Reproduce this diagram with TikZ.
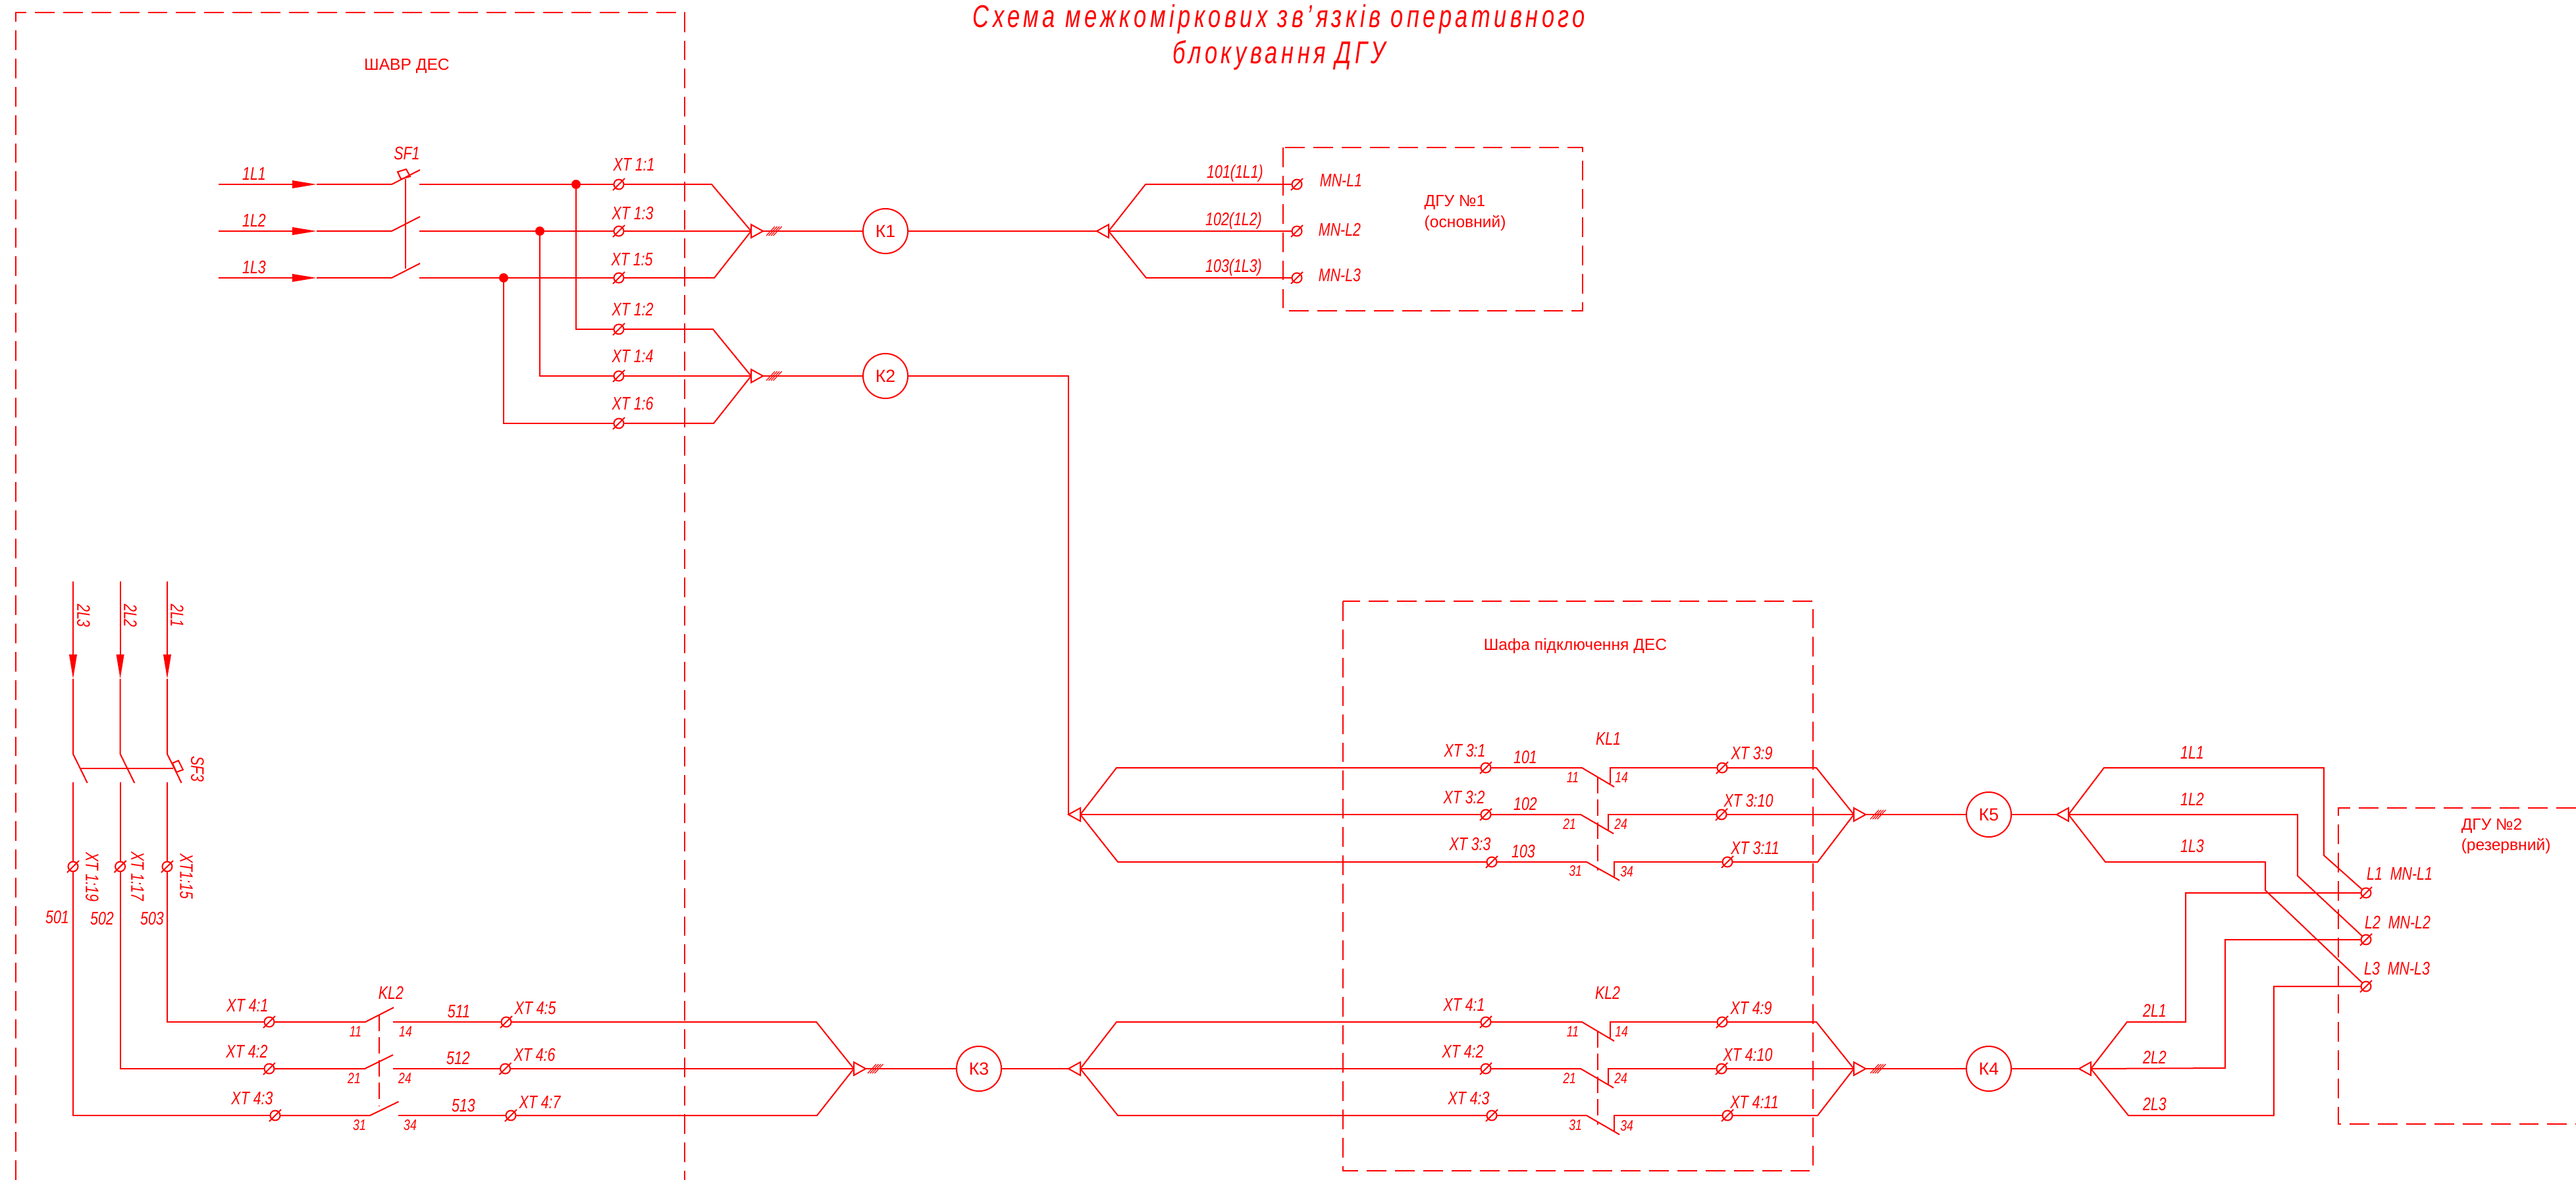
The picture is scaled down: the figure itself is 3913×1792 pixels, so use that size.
\documentclass[tikz,border=0pt]{standalone}
\usepackage{fontspec}
\usepackage{tikz}
\setmainfont{Liberation Sans}
\newfontfamily\cadfont[FakeStretch=0.77]{Liberation Sans Italic}
\newfontfamily\titlefont[FakeStretch=0.72,LetterSpace=11.5]{Liberation Sans Italic}
\usetikzlibrary{shapes.geometric, arrows.meta}
\newcommand{\XTterm}[2]{\node[term] (#1) at (#2) {};
    \draw[wire] ([shift={(-9,9)}]#1.center) -- ([shift={(9,-9)}]#1.center);}
\newcommand{\CableTick}[1]{\draw[thinwire] ([shift={(-11,7)}]#1) -- ([shift={(2,-7)}]#1);
    \draw[thinwire] ([shift={(-7.5,7)}]#1) -- ([shift={(5.5,-7)}]#1);
    \draw[thinwire] ([shift={(-4,7)}]#1) -- ([shift={(9,-7)}]#1);
    \draw[thinwire] ([shift={(-0.5,7)}]#1) -- ([shift={(12.5,-7)}]#1);}

\begin{document}
\begin{tikzpicture}
    [
        x=0.01cm, y=-0.01cm, color=red,
        wire/.style = {draw=red, line width=0.02cm},
        thinwire/.style = {draw=red, line width=0.012cm},
        feed/.style = {wire, -{Triangle[length=0.37cm, width=0.115cm]}},
        frame/.style = {draw=red, line width=0.022cm, dash pattern=on 8.5pt off 3.7pt},
        linkbar/.style = {draw=red, line width=0.016cm, dash pattern=on 7pt off 2.8pt},
        term/.style = {draw=red, shape=circle, minimum size=0.15cm, inner sep=0, outer sep=0, line width=0.02cm},
        dot/.style = {fill=red, shape=circle, minimum size=0.14cm, inner sep=0, outer sep=0},
        coil/.style = {draw=red, shape=circle, minimum size=0.68cm, inner sep=0, outer sep=0, line width=0.02cm, font=\fontsize{7.6}{8}\selectfont},
        hubr/.style = {draw=red, shape=isosceles triangle, isosceles triangle apex angle=58, minimum height=0.18cm, inner sep=0, outer sep=0, line width=0.02cm, anchor=apex},
        hubl/.style = {hubr, shape border rotate=180},
        cad/.style = {text=red, inner sep=0, font=\cadfont\fontsize{7.9}{8}\selectfont},
        pin/.style = {text=red, inner sep=0, font=\cadfont\fontsize{6.5}{7}\selectfont},
        plain/.style = {text=red, inner sep=0, align=left, font=\fontsize{7}{9}\selectfont},
        heading/.style = {text=red, inner sep=0, font=\titlefont\fontsize{13.6}{15}\selectfont},
    ]
    \useasboundingbox (0,0) rectangle (3913,1792);

    \draw[frame] (24,1792) -- (24,19) -- (1040,19) -- (1040,1792);
    \draw[frame] (1949,224) rectangle (2404,472);
    \draw[frame] (2040,913) rectangle (2754,1778);
    \draw[frame] (3913,1227) -- (3552,1227) -- (3552,1707) -- (3913,1707);

    \node[heading] (title1) at (1943,29) {Схема межкоміркових зв’язків оперативного};
    \node[heading] (title2) at (1943,84) {блокування ДГУ};
    \node[plain] (shavr) at (618,100) {ШАВР ДЕС};
    \node[plain] (shafa) at (2393,981) {Шафа підключення ДЕС};
    \node[plain, anchor=west] (dgu1) at (2163,307) {ДГУ №1};
    \node[plain, anchor=west] (dgu1b) at (2163,339) {(основний)};
    \node[plain, anchor=west] (dgu2) at (3738,1254) {ДГУ №2};
    \node[plain, anchor=west] (dgu2b) at (3738,1285) {(резервний)};

    \node[coil] (K1) at (1345,351) {К1};
    \node[coil] (K2) at (1345,571) {К2};
    \node[coil] (K3) at (1487,1623) {К3};
    \node[coil] (K4) at (3021,1623) {К4};
    \node[coil] (K5) at (3021,1237) {К5};

    \node[hubr] (hub1a) at (1159,351) {};
    \node[hubr] (hub2a) at (1159,571) {};
    \node[hubr] (hub3a) at (1315,1623) {};
    \node[hubr] (hub5a) at (2834,1237) {};
    \node[hubr] (hub4a) at (2834,1623) {};
    \node[hubl] (hub1b) at (1666,351) {};
    \node[hubl] (hub2b) at (1623,1237) {};
    \node[hubl] (hub3b) at (1623,1623) {};
    \node[hubl] (hub5b) at (3124,1237) {};
    \node[hubl] (hub4b) at (3158,1623) {};

    \node[dot] (dot1) at (875,280) {};
    \node[dot] (dot2) at (820,351) {};
    \node[dot] (dot3) at (765,422) {};

    \XTterm{t11}{940,280}
    \XTterm{t13}{940,351}
    \XTterm{t15}{940,422}
    \XTterm{t12}{940,500}
    \XTterm{t14}{940,571}
    \XTterm{t16}{940,643}
    \XTterm{mn1}{1970,280}
    \XTterm{mn2}{1970,351}
    \XTterm{mn3}{1970,422}
    \XTterm{t119}{111,1316}
    \XTterm{t117}{182.6,1316}
    \XTterm{t115}{254,1316}
    \XTterm{a41}{409,1552}
    \XTterm{a42}{409,1623}
    \XTterm{a43}{418,1694}
    \XTterm{a45}{769,1552}
    \XTterm{a46}{767.5,1623}
    \XTterm{a47}{776,1694}
    \XTterm{t31}{2257,1166}
    \XTterm{t32}{2257,1237}
    \XTterm{t33}{2266,1309}
    \XTterm{t39}{2616,1166}
    \XTterm{t310}{2615,1237}
    \XTterm{t311}{2624,1309}
    \XTterm{b41}{2257,1552}
    \XTterm{b42}{2257,1623}
    \XTterm{b43}{2266,1694}
    \XTterm{b49}{2616,1552}
    \XTterm{b410}{2615,1623}
    \XTterm{b411}{2624,1694}
    \XTterm{mm1}{3594,1356}
    \XTterm{mm2}{3594,1427}
    \XTterm{mm3}{3594,1498}

    \coordinate (in1) at (332,280);
    \coordinate (in2) at (332,351);
    \coordinate (in3) at (332,422);
    \coordinate (tip1) at (481,280);
    \coordinate (tip2) at (481,351);
    \coordinate (tip3) at (481,422);
    \coordinate (sf1r) at (637,280);
    \coordinate (sf2r) at (637,351);
    \coordinate (sf3r) at (637,422);
    \draw[feed] (in1) -- (tip1);
    \draw[feed] (in2) -- (tip2);
    \draw[feed] (in3) -- (tip3);
    \draw[wire] (tip1) -- (595,280) -- (638,258);
    \draw[wire] (tip2) -- (595,351) -- (638,329);
    \draw[wire] (tip3) -- (595,422) -- (638,400);
    \draw[wire] (616,272) -- (616,408);
    \draw[wire] (604,261) -- (617,257) -- (623,268) -- (609,272) -- cycle;

    \draw[wire] (sf1r) -- (dot1) -- (t11);
    \draw[wire] (sf2r) -- (dot2) -- (t13);
    \draw[wire] (sf3r) -- (dot3) -- (t15);
    \draw[wire] (dot1) |- (t12);
    \draw[wire] (dot2) |- (t14);
    \draw[wire] (dot3) |- (t16);

    \draw[wire] (t11) -- (1081,280) -- (hub1a.lower side);
    \draw[wire] (t13) -- (hub1a.lower side);
    \draw[wire] (t15) -- (1085,422) -- (hub1a.lower side);
    \draw[wire] (t12) -- (1083,500) -- (hub2a.lower side);
    \draw[wire] (t14) -- (hub2a.lower side);
    \draw[wire] (t16) -- (1084,643) -- (hub2a.lower side);
    \draw[wire] (hub1a.apex) -- (K1);
    \draw[wire] (hub2a.apex) -- (K2);
    \CableTick{1175,351}
    \CableTick{1175,571}

    \draw[wire] (K1) -- (hub1b.apex);
    \draw[wire] (hub1b.lower side) -- (1740,280) -- (mn1);
    \draw[wire] (hub1b.lower side) -- (mn2);
    \draw[wire] (hub1b.lower side) -- (1741,422) -- (mn3);

    \draw[wire] (K2) -| (hub2b.apex);
    \draw[wire] (hub2b.lower side) -- (1696,1166) -- (t31);
    \draw[wire] (hub2b.lower side) -- (t32);
    \draw[wire] (hub2b.lower side) -- (1698,1309) -- (t33);
    \draw[wire] (t31) -- (2403,1166) -- (2452,1195);
    \draw[wire] (t32) -- (2401,1237) -- (2451,1266);
    \draw[wire] (t33) -- (2410,1309) -- (2460,1337);
    \draw[wire] (2446,1190) -- (2446,1166) -- (t39);
    \draw[wire] (2443,1261) -- (2443,1237) -- (t310);
    \draw[wire] (2452,1333) -- (2452,1309) -- (t311);
    \draw[linkbar] (2427,1180) -- (2427,1322);
    \draw[wire] (t39) -- (2759,1166) -- (hub5a.lower side);
    \draw[wire] (t310) -- (hub5a.lower side);
    \draw[wire] (t311) -- (2761,1309) -- (hub5a.lower side);
    \draw[wire] (hub5a.apex) -- (K5);
    \CableTick{2852,1237}

    \draw[wire] (K5) -- (hub5b.apex);
    \draw[wire] (hub5b.lower side) -- (3196,1166) -- (3530,1166) -- (3530,1299) -- (mm1);
    \draw[wire] (hub5b.lower side) -- (3490,1237) -- (3490,1330) -- (mm2);
    \draw[wire] (hub5b.lower side) -- (3198,1309) -- (3441,1309) -- (3441,1352) -- (mm3);

    \coordinate (in4) at (254,883);
    \coordinate (in5) at (182.6,883);
    \coordinate (in6) at (111,883);
    \coordinate (tip4) at (254,1031);
    \coordinate (tip5) at (182.6,1031);
    \coordinate (tip6) at (111,1031);
    \coordinate (sf4r) at (254,1188);
    \coordinate (sf5r) at (182.6,1188);
    \coordinate (sf6r) at (111,1188);
    \draw[feed] (in4) -- (tip4);
    \draw[feed] (in5) -- (tip5);
    \draw[feed] (in6) -- (tip6);
    \draw[wire] (tip4) -- (254,1145) -- (275.7,1189);
    \draw[wire] (tip5) -- (182.6,1145) -- (204.3,1189);
    \draw[wire] (tip6) -- (111,1145) -- (132.7,1189);
    \draw[wire] (122,1167) -- (263,1167);
    \draw[wire] (262,1159) -- (271,1155) -- (278,1169) -- (268,1172.6) -- cycle;
    \draw[wire] (sf4r) -- (t115);
    \draw[wire] (sf5r) -- (t117);
    \draw[wire] (sf6r) -- (t119);
    \draw[wire] (t115) |- (a41);
    \draw[wire] (t117) |- (a42);
    \draw[wire] (t119) |- (a43);

    \draw[wire] (a41) -- (555,1552) -- (598,1530);
    \draw[wire] (a42) -- (554,1623) -- (597,1602);
    \draw[wire] (a43) -- (562,1694) -- (605.5,1673);
    \draw[wire] (597,1552) -- (a45);
    \draw[wire] (597,1623) -- (a46);
    \draw[wire] (605,1694) -- (a47);
    \draw[linkbar] (576,1541) -- (576,1680);
    \draw[wire] (a45) -- (1240,1552) -- (hub3a.lower side);
    \draw[wire] (a46) -- (hub3a.lower side);
    \draw[wire] (a47) -- (1241,1694) -- (hub3a.lower side);
    \draw[wire] (hub3a.apex) -- (K3);
    \CableTick{1329,1623}

    \draw[wire] (K3) -- (hub3b.apex);
    \draw[wire] (hub3b.lower side) -- (1696,1552) -- (b41);
    \draw[wire] (hub3b.lower side) -- (b42);
    \draw[wire] (hub3b.lower side) -- (1698,1694) -- (b43);
    \draw[wire] (b41) -- (2403,1552) -- (2452,1581);
    \draw[wire] (b42) -- (2401,1623) -- (2451,1652);
    \draw[wire] (b43) -- (2410,1694) -- (2460,1723);
    \draw[wire] (2446,1576) -- (2446,1552) -- (b49);
    \draw[wire] (2443,1647) -- (2443,1623) -- (b410);
    \draw[wire] (2452,1718) -- (2452,1694) -- (b411);
    \draw[linkbar] (2427,1566) -- (2427,1708);
    \draw[wire] (b49) -- (2759,1552) -- (hub4a.lower side);
    \draw[wire] (b410) -- (hub4a.lower side);
    \draw[wire] (b411) -- (2761,1694) -- (hub4a.lower side);
    \draw[wire] (hub4a.apex) -- (K4);
    \CableTick{2852,1623}

    \draw[wire] (K4) -- (hub4b.apex);
    \draw[wire] (hub4b.lower side) -- (3231,1552) -- (3320,1552) -- (3320,1356) -- (mm1);
    \draw[wire] (hub4b.lower side) -- (3380,1622) -- (3380,1427) -- (mm2);
    \draw[wire] (hub4b.lower side) -- (3233,1694) -- (3454,1694) -- (3454,1498) -- (mm3);

    \node[cad] (sf1) at (618,233) {SF1};
    \node[cad] (l1) at (386,264) {1L1};
    \node[cad] (l2) at (386,335) {1L2};
    \node[cad] (l3) at (386,406) {1L3};
    \node[cad] (x11) at (963,250) {XT 1:1};
    \node[cad] (x13) at (961,324) {XT 1:3};
    \node[cad] (x15) at (960,394) {XT 1:5};
    \node[cad] (x12) at (961,470) {XT 1:2};
    \node[cad] (x14) at (961,541) {XT 1:4};
    \node[cad] (x16) at (961,613) {XT 1:6};

    \node[cad] (w1) at (1876,263) {101(1L1)};
    \node[cad] (w2) at (1874,335) {102(1L2)};
    \node[cad] (w3) at (1874,406) {103(1L3)};
    \node[cad] (m1) at (2037,274) {MN-L1};
    \node[cad] (m2) at (2035,349) {MN-L2};
    \node[cad] (m3) at (2035,418) {MN-L3};

    \node[cad, rotate=-90] (v3) at (127,935) {2L3};
    \node[cad, rotate=-90] (v2) at (198,935) {2L2};
    \node[cad, rotate=-90] (v1) at (269,935) {2L1};
    \node[cad, rotate=-90] (sf3) at (300,1168) {SF3};
    \node[cad, rotate=-90] (x119) at (140,1332) {XT 1:19};
    \node[cad, rotate=-90] (x117) at (209,1331) {XT 1:17};
    \node[cad, rotate=-90] (x115) at (283,1331) {XT1:15};
    \node[cad] (n501) at (87,1393) {501};
    \node[cad] (n502) at (155,1395) {502};
    \node[cad] (n503) at (231,1395) {503};

    \node[cad] (a41l) at (376,1527) {XT 4:1};
    \node[cad] (a42l) at (375,1597) {XT 4:2};
    \node[cad] (a43l) at (383,1668) {XT 4:3};
    \node[cad] (kl2a) at (594,1508) {KL2};
    \node[cad] (n511) at (697,1536) {511};
    \node[cad] (n512) at (696,1607) {512};
    \node[cad] (n513) at (704,1679) {513};
    \node[cad] (a45l) at (813,1531) {XT 4:5};
    \node[cad] (a46l) at (812,1602) {XT 4:6};
    \node[cad] (a47l) at (820,1674) {XT 4:7};
    \node[pin] (p11a) at (540,1567) {11};
    \node[pin] (p14a) at (616,1567) {14};
    \node[pin] (p21a) at (538,1638) {21};
    \node[pin] (p24a) at (615,1638) {24};
    \node[pin] (p31a) at (546,1709) {31};
    \node[pin] (p34a) at (623,1709) {34};

    \node[cad] (t31l) at (2225,1140) {XT 3:1};
    \node[cad] (t32l) at (2224,1211) {XT 3:2};
    \node[cad] (t33l) at (2233,1282) {XT 3:3};
    \node[cad] (n101) at (2317,1150) {101};
    \node[cad] (n102) at (2317,1221) {102};
    \node[cad] (n103) at (2314,1293) {103};
    \node[cad] (kl1) at (2443,1122) {KL1};
    \node[cad] (t39l) at (2661,1144) {XT 3:9};
    \node[cad] (t310l) at (2656,1216) {XT 3:10};
    \node[cad] (t311l) at (2666,1288) {XT 3:11};
    \node[pin] (p11b) at (2389,1181) {11};
    \node[pin] (p14b) at (2463,1181) {14};
    \node[pin] (p21b) at (2384,1252) {21};
    \node[pin] (p24b) at (2462,1252) {24};
    \node[pin] (p31b) at (2393,1323) {31};
    \node[pin] (p34b) at (2471,1324) {34};

    \node[cad] (b41l) at (2224,1526) {XT 4:1};
    \node[cad] (b42l) at (2222,1597) {XT 4:2};
    \node[cad] (b43l) at (2231,1668) {XT 4:3};
    \node[cad] (kl2b) at (2442,1508) {KL2};
    \node[cad] (b49l) at (2660,1531) {XT 4:9};
    \node[cad] (b410l) at (2655,1602) {XT 4:10};
    \node[cad] (b411l) at (2665,1674) {XT 4:11};
    \node[pin] (p11c) at (2389,1567) {11};
    \node[pin] (p14c) at (2463,1567) {14};
    \node[pin] (p21c) at (2384,1638) {21};
    \node[pin] (p24c) at (2462,1638) {24};
    \node[pin] (p31c) at (2393,1709) {31};
    \node[pin] (p34c) at (2471,1710) {34};

    \node[cad] (c1) at (3330,1143) {1L1};
    \node[cad] (c2) at (3330,1214) {1L2};
    \node[cad] (c3) at (3330,1285) {1L3};
    \node[cad] (d1) at (3273,1535) {2L1};
    \node[cad] (d2) at (3273,1606) {2L2};
    \node[cad] (d3) at (3273,1677) {2L3};
    \node[cad] (mm1l) at (3645,1327) {L1\ \ MN-L1};
    \node[cad] (mm2l) at (3642,1401) {L2\ \ MN-L2};
    \node[cad] (mm3l) at (3641,1471) {L3\ \ MN-L3};
\end{tikzpicture}
\end{document}
